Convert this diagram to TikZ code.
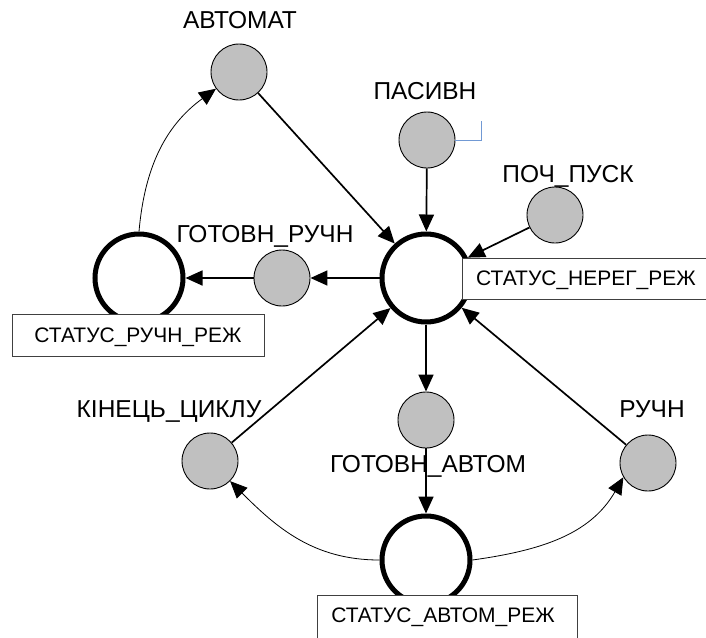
\documentclass[tikz,border=0pt]{standalone}
\usepackage{fontspec}
\setmainfont{Liberation Sans}
\usetikzlibrary{arrows.meta}
\definecolor{placegray}{HTML}{C0C0C0}
\definecolor{hintblue}{HTML}{7199D4}
\begin{document}
\begin{tikzpicture}[x=1pt,y=1pt,
  place/.style={circle, draw=black, line width=0.9pt, fill=placegray, minimum size=56pt, inner sep=0pt},
  state/.style={circle, draw=black, line width=5pt, fill=white, minimum size=88pt, inner sep=0pt},
  statusbox/.style={rectangle, draw=black!75, line width=0.9pt, fill=white, inner sep=0pt},
  lbl/.style={font=\fontsize{24.5}{24.5}\selectfont, inner sep=0pt, anchor=base},
  boxlbl/.style={font=\fontsize{21}{21}\selectfont, inner sep=0pt, anchor=base},
  arc/.style={line width=1.7pt, -{Triangle[length=17pt,width=15pt]}},
  thinarc/.style={line width=0.8pt, -{Triangle[length=17pt,width=15pt]}},
]
\useasboundingbox (0,0) rectangle (706,-637);
\clip (0,0) rectangle (706,-637);

% mode places (thick rings)
\node[state] (nereg) at (426,-278) {};
\node[state] (ruchmode) at (139,-278) {};
\node[state] (avtmode) at (426,-560) {};

% event places (gray)
\node[place] (avtomat) at (239,-72) {};
\node[place] (pasyvn) at (427,-140) {};
\node[place] (pochpusk) at (555,-215) {};
\node[place] (gotruch) at (282,-278) {};
\node[place] (kinets) at (210,-461) {};
\node[place] (gotavt) at (426,-420) {};
\node[place] (ruchn) at (648,-463) {};

% place labels
\node[lbl] (avtomatlbl) at (240,-28) {АВТОМАТ};
\node[lbl] (pasyvnlbl) at (425,-99) {ПАСИВН};
\node[lbl] (pochpusklbl) at (568,-182) {ПОЧ\_ПУСК};
\node[lbl] (gotruchlbl) at (265,-242) {ГОТОВН\_РУЧН};
\node[lbl] (kinetslbl) at (169,-417) {КІНЕЦЬ\_ЦИКЛУ};
\node[lbl] (gotavtlbl) at (428,-472) {ГОТОВН\_АВТОМ};
\node[lbl] (ruchnlbl) at (652,-417) {РУЧН};

% arcs
\draw[arc] (avtomat) -- (nereg);
\draw[arc] (pasyvn) -- (nereg);
\draw[arc] (pochpusk) -- (nereg);
\draw[arc] (nereg) -- (gotruch);
\draw[arc] (gotruch) -- (ruchmode);
\draw[arc] (kinets) -- (nereg);
\draw[arc] (ruchn) -- (nereg);
\draw[arc] (nereg) -- (gotavt);
\draw[arc] (gotavt) -- (avtmode);
\draw[thinarc] (ruchmode.north) to[out=85,in=-144] (avtomat);
\draw[thinarc] (avtmode.west) to[out=180,in=-45] (kinets);
\draw[thinarc] (avtmode.east) to[out=8,in=-120] (ruchn.-150);

% small bracket beside ПАСИВН
\draw[hintblue, line width=0.8pt] (pasyvn.east) -- ++(26,0) -- ++(0,19);

% status boxes
\node[statusbox, minimum width=258pt, minimum height=41pt] (neregbox) at (591,-278.5) {};
\node[boxlbl] (neregtxt) at (586,-285) {СТАТУС\_НЕРЕГ\_РЕЖ};
\node[statusbox, minimum width=252pt, minimum height=42pt] (ruchbox) at (138,-335) {};
\node[boxlbl] (ruchtxt) at (138,-342) {СТАТУС\_РУЧН\_РЕЖ};
\node[statusbox, minimum width=260pt, minimum height=50pt] (avtbox) at (447,-620) {};
\node[boxlbl] (avttxt) at (443,-622) {СТАТУС\_АВТОМ\_РЕЖ};
\end{tikzpicture}
\end{document}
